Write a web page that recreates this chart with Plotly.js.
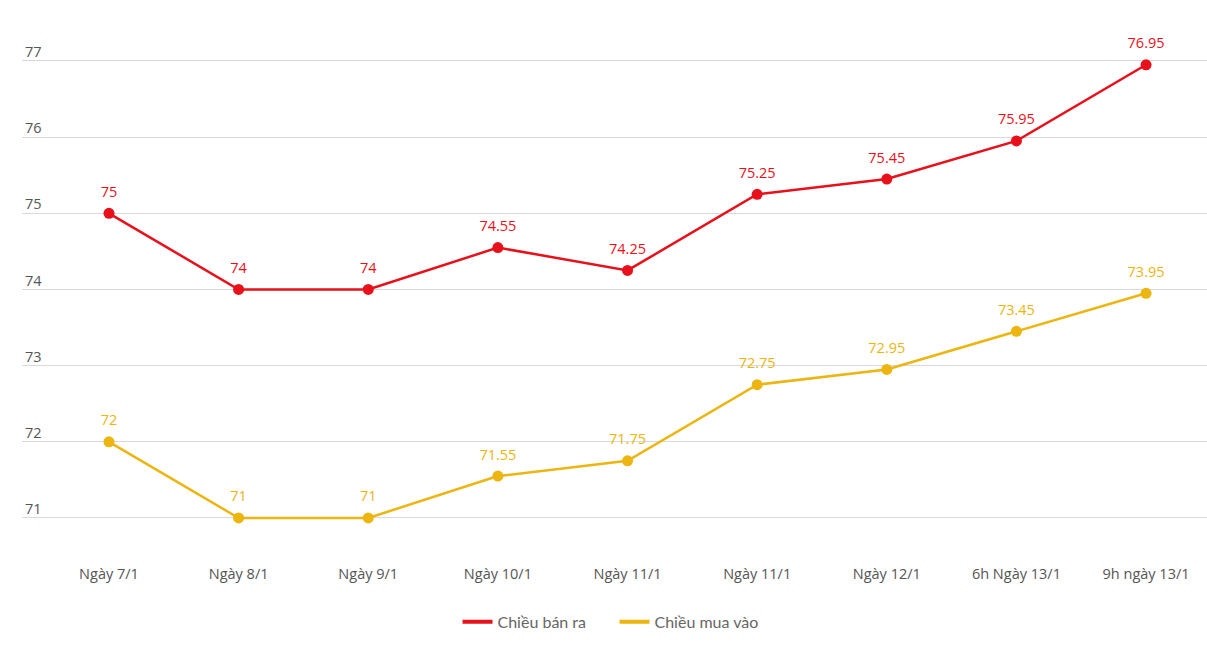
<!DOCTYPE html>
<html><head><meta charset="utf-8">
<script src="https://cdn.plot.ly/plotly-3.0.1.min.js"></script>
<style>html,body{margin:0;padding:0;background:#fff}#c{width:1207px;height:665px}</style>
</head><body><div id="c"></div>
<script>
const categories = ["Ngày 7/1","Ngày 8/1","Ngày 9/1","Ngày 10/1","Ngày 11/1","Ngày 11/1","Ngày 12/1","6h Ngày 13/1","9h ngày 13/1"];
const sellValues = [75,74,74,74.55,74.25,75.25,75.45,75.95,76.95];
const buyValues = [72,71,71,71.55,71.75,72.75,72.95,73.45,73.95];
const yTicks = [71,72,73,74,75,76,77];
const seriesNames = ["Chiều bán ra","Chiều mua vào"];

const RED = "#e8101a", YEL = "#ecb50f";
const idx = categories.map((_, i) => i);
const fmt = v => String(v);

function series(vals, color){
  return {x: idx, y: vals, type: "scatter", mode: "lines+markers",
    line: {color: color, width: 2.5}, marker: {color: color, size: 11},
    showlegend: false, hoverinfo: "skip", cliponaxis: false};
}
function labels(vals, color){
  return {x: idx, y: vals, type: "scatter", mode: "markers+text",
    text: vals.map(fmt), textposition: "top center",
    textfont: {family: "Open Sans, sans-serif", size: 14.5, color: color},
    marker: {color: "rgba(0,0,0,0)", size: 19},
    showlegend: false, hoverinfo: "skip", cliponaxis: false};
}
function legendItem(name, color){
  return {x: [null], y: [null], type: "scatter", mode: "lines", name: name,
    line: {color: color, width: 4}};
}
const data = [series(sellValues, RED), series(buyValues, YEL),
  labels(sellValues, RED), labels(buyValues, YEL),
  legendItem(seriesNames[0], RED), legendItem(seriesNames[1], YEL)];

const layout = {
  width: 1207, height: 665,
  margin: {l: 22, r: 0, t: 20, b: 110},
  paper_bgcolor: "#fff", plot_bgcolor: "#fff",
  font: {family: "Open Sans, sans-serif", color: "#555", size: 14},
  xaxis: {range: [-0.671, 8.47], tickvals: idx, ticktext: categories,
    showgrid: false, zeroline: false, showline: false, ticks: "",
    tickfont: {size: 14.5, color: "#555"}, ticklabelstandoff: 8},
  yaxis: {range: [70.514, 77.538], tickvals: yTicks, ticktext: yTicks.map(String),
    showgrid: true, gridcolor: "#d9d9d9", gridwidth: 1, zeroline: false, showline: false,
    ticks: "", ticklabelposition: "inside", ticklabelshift: -9,
    tickfont: {size: 14.5, color: "#555"}},
  legend: {orientation: "h", x: 0.5, xanchor: "center", y: -0.125, yanchor: "middle",
    font: {family: "Lato, Open Sans, sans-serif", size: 16, color: "#666"},
    entrywidth: 112, entrywidthmode: "pixels", tracegroupgap: 0}
};
Plotly.newPlot("c", data, layout, {displayModeBar: false, staticPlot: true});
</script></body></html>
